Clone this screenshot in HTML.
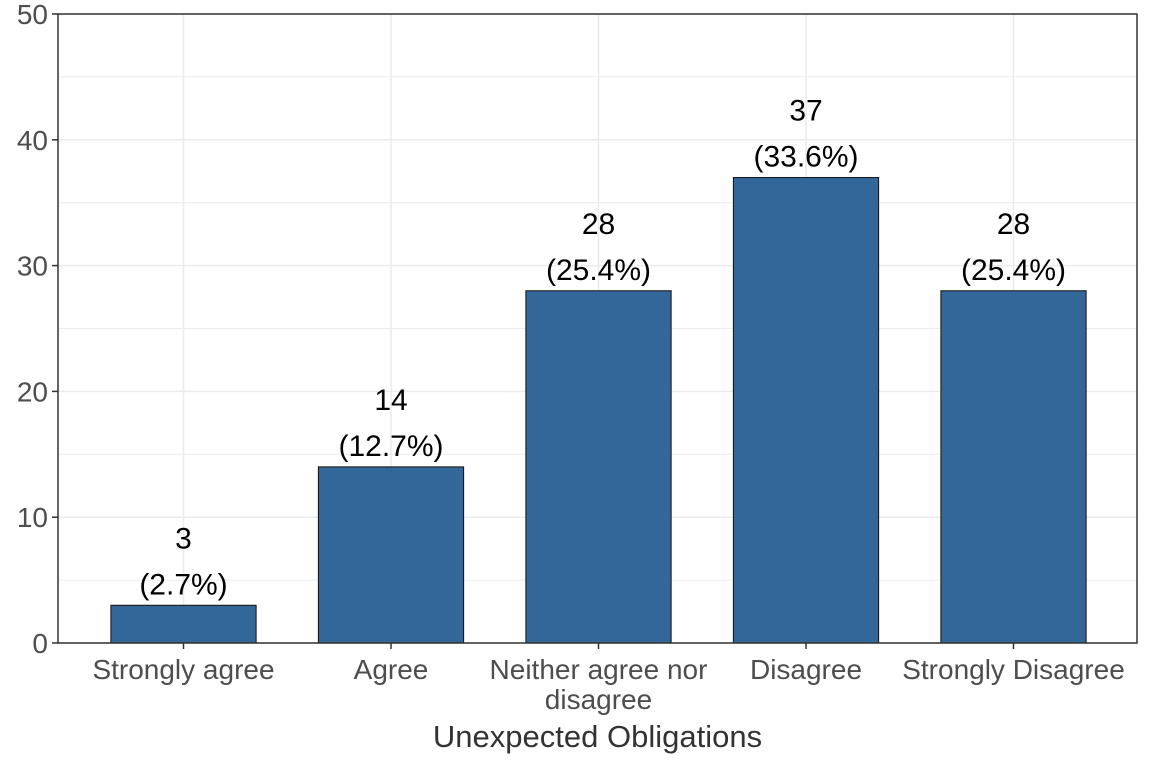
<!DOCTYPE html>
<html><head><meta charset="utf-8"><style>
body{margin:0;background:#fff;}
svg text{font-family:"Liberation Sans",Arial,sans-serif;}
</style></head><body>
<svg id="chart" width="1152" height="768" xmlns="http://www.w3.org/2000/svg"></svg>
<script>
const categories=["Strongly agree","Agree","Neither agree nor|disagree","Disagree","Strongly Disagree"];
const counts=[3,14,28,37,28];
const percents=["2.7%","12.7%","25.4%","33.6%","25.4%"];
const yTicks=[0,10,20,30,40,50];
const yMinor=[5,15,25,35,45];

const svg=document.getElementById('chart');
const NS="http://www.w3.org/2000/svg";
const L=58,R=1137,T=14,B=643,yMax=50;
const step=(R-L)/(categories.length+0.2);
const bw=step*0.7;
function x(i){return L+step*(0.6+i)+1;}
function y(v){return B-(B-T)*v/yMax;}
function el(tag,attrs,parent){const e=document.createElementNS(NS,tag);for(const k in attrs)e.setAttribute(k,attrs[k]);(parent||svg).appendChild(e);return e;}

yMinor.forEach(v=>{const g=el('line',{x1:L,x2:R,y1:y(v),y2:y(v),stroke:'#ebebeb','stroke-width':1});

});
yTicks.forEach(v=>{const g=el('line',{x1:L,x2:R,y1:y(v),y2:y(v),stroke:'#ebebeb','stroke-width':1.5});

});
categories.forEach((c,i)=>{const g=el('line',{x1:x(i),x2:x(i),y1:T,y2:B,stroke:'#ebebeb','stroke-width':1.5});

});

counts.forEach((v,i)=>{
 const r=el('rect',{x:x(i)-bw/2,y:y(v),width:bw,height:B-y(v),fill:'#336699',stroke:'#111','stroke-width':1});
 
 
 const t1=el('text',{x:x(i),y:y(v)-57,'text-anchor':'middle','font-size':30,fill:'#000'});t1.textContent=v;
 
 
 const t2=el('text',{x:x(i),y:y(v)-11,'text-anchor':'middle','font-size':30,fill:'#000'});t2.textContent='('+percents[i]+')';
 
 
 const lines=categories[i].split('|');
 lines.forEach((ln,j)=>{const t=el('text',{x:x(i),y:679+j*30,'text-anchor':'middle','font-size':28,fill:'#4d4d4d'});t.textContent=ln;
 
 });
 el('line',{x1:x(i),x2:x(i),y1:B,y2:B+6,stroke:'#333','stroke-width':1.5});
});

yTicks.forEach(v=>{
 el('line',{x1:L-6,x2:L,y1:y(v),y2:y(v),stroke:'#333','stroke-width':1.5});
 const t=el('text',{x:L-10,y:y(v)+10,'text-anchor':'end','font-size':28,fill:'#4d4d4d'});t.textContent=v;
 
 
});
const border=el('rect',{x:L,y:T,width:R-L,height:B-T,fill:'none',stroke:'#333','stroke-width':1.5});


const xt=el('text',{x:(L+R)/2,y:747,'text-anchor':'middle','font-size':31,fill:'#333'});xt.textContent='Unexpected Obligations';


</script>
</body></html>
